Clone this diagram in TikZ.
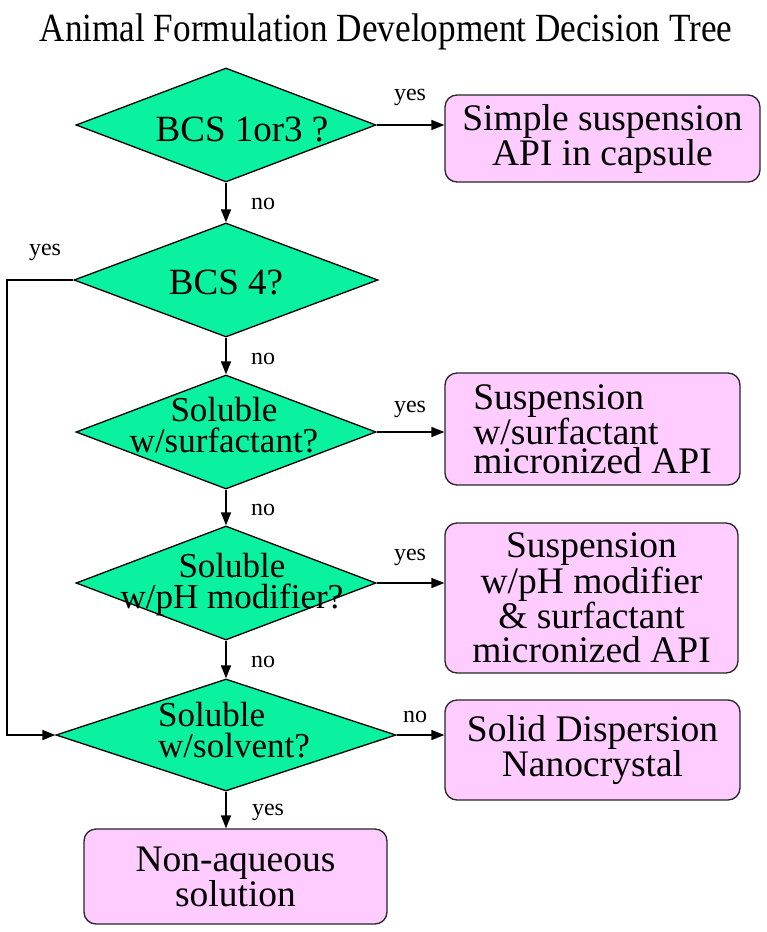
\documentclass[tikz,border=0pt]{standalone}
\usepackage{fontspec}
\setmainfont{Liberation Serif}
\usetikzlibrary{shapes,arrows,arrows.meta}
\definecolor{decgreen}{RGB}{10,242,160}
\definecolor{boxpink}{RGB}{255,204,255}

\begin{document}
\begin{tikzpicture}[x=1pt, y=-1pt,
    decision/.style={diamond, draw=black, line width=1.3pt, fill=decgreen,
      inner sep=0pt, minimum width=300pt, minimum height=114pt},
    decision_text/.style={align=center, inner sep=0pt,
      font=\fontsize{35}{31}\selectfont},
    block_result/.style={rectangle, draw=black!85, line width=1.3pt, fill=boxpink,
      rounded corners=12pt, align=center, inner sep=0pt,
      font=\fontsize{37.5}{34}\selectfont},
    block_noborder/.style={inner sep=0pt, anchor=base,
      font=\fontsize{24}{28}\selectfont},
    line/.style={draw, line width=1.6pt, -{Triangle[length=13pt,width=10pt]}}]

    \path[fill=white] (0,0) rectangle (767,932);
    \useasboundingbox (0,0) rectangle (767,932);

    % title
    \node [block_noborder, font=\fontsize{40}{48}\selectfont] (title) at (386,41)
      {\scalebox{0.88}[1]{Animal Formulation Development Decision Tree}};

    % Place decision nodes (diamonds, text set on top)
    \node [decision] (bcsA) at (226,125) {};
    \node [decision_text, font=\fontsize{37}{30}\selectfont] (bcsAtext) at (242,129.5) {BCS 1or3 ?};
    \node [decision, minimum width=304pt] (bcsB) at (226,280) {};
    \node [decision_text, font=\fontsize{37}{30}\selectfont] (bcsBtext) at (226,282.5) {BCS 4?};
    \node [decision] (surf) at (226,432) {};
    \node [decision_text] (surfText) at (224,425) {Soluble\\w/surfactant?};
    \node [decision] (phmod) at (226,583) {};
    \node [decision_text] (phmodText) at (232,585) {Soluble\\w/pH modifier?};
    \node [decision, minimum width=340pt, minimum height=112pt] (solvent) at (226,735) {};
    \node [decision_text, align=left] (solventText) at (234,730) {Soluble\\w/solvent?};

    % Place result boxes
    \node [block_result, minimum width=315pt, minimum height=87pt,
      font=\fontsize{37.5}{33}\selectfont] (capsule) at (602.5,138.5)
      {Simple suspension\\API in capsule};
    \node [block_result, minimum width=295pt, minimum height=112pt, align=left,
      font=\fontsize{37.5}{29}\selectfont] (suspSurf) at (592.5,429)
      {Suspension\\w/surfactant\\micronized API};
    \node [block_result, minimum width=293pt, minimum height=150pt,
      font=\fontsize{37.5}{34}\selectfont] (suspPh) at (591.5,598)
      {Suspension\\w/pH modifier\\\& surfactant\\micronized API};
    \node [block_result, minimum width=295pt, minimum height=100pt,
      font=\fontsize{37.5}{35}\selectfont] (dispersion) at (592.5,750)
      {Solid Dispersion\\Nanocrystal};
    \node [block_result, minimum width=303pt, minimum height=95pt,
      font=\fontsize{37.5}{31}\selectfont] (nonaq) at (235.5,876.5)
      {Non-aqueous\\solution};

    % yes / no labels
    \node [block_noborder] (yesA) at (410,100) {yes};
    \node [block_noborder] (noA) at (263,209) {no};
    \node [block_noborder] (yesB) at (45,255) {yes};
    \node [block_noborder] (noB) at (263,364) {no};
    \node [block_noborder] (yesC) at (410,412) {yes};
    \node [block_noborder] (noC) at (263,515) {no};
    \node [block_noborder] (yesD) at (410,560) {yes};
    \node [block_noborder] (noD) at (263,667) {no};
    \node [block_noborder] (noE) at (415,722) {no};
    \node [block_noborder] (yesE) at (268,815) {yes};

    \coordinate (bypass) at (7,280);

    \begin{scope}[every path/.style=line]
    % paths down the decision column
    \path (bcsA.south) -- (bcsB.north);
    \path (bcsB.south) -- (surf.north);
    \path (surf.south) -- (phmod.north);
    \path (phmod.south) -- (solvent.north);
    \path (solvent.south) -- (solvent.south |- nonaq.north);

    % paths to the result boxes
    \path (bcsA.east) -- (bcsA.east -| capsule.west);
    \path (surf.east) -- (surf.east -| suspSurf.west);
    \path (phmod.east) -- (phmod.east -| suspPh.west);
    \path (solvent.east) -- (solvent.east -| dispersion.west);

    % BCS 4 bypass on the left
    \path (bcsB.west) -- (bypass) |- (solvent.west);
    \end{scope}

\end{tikzpicture}
\end{document}
